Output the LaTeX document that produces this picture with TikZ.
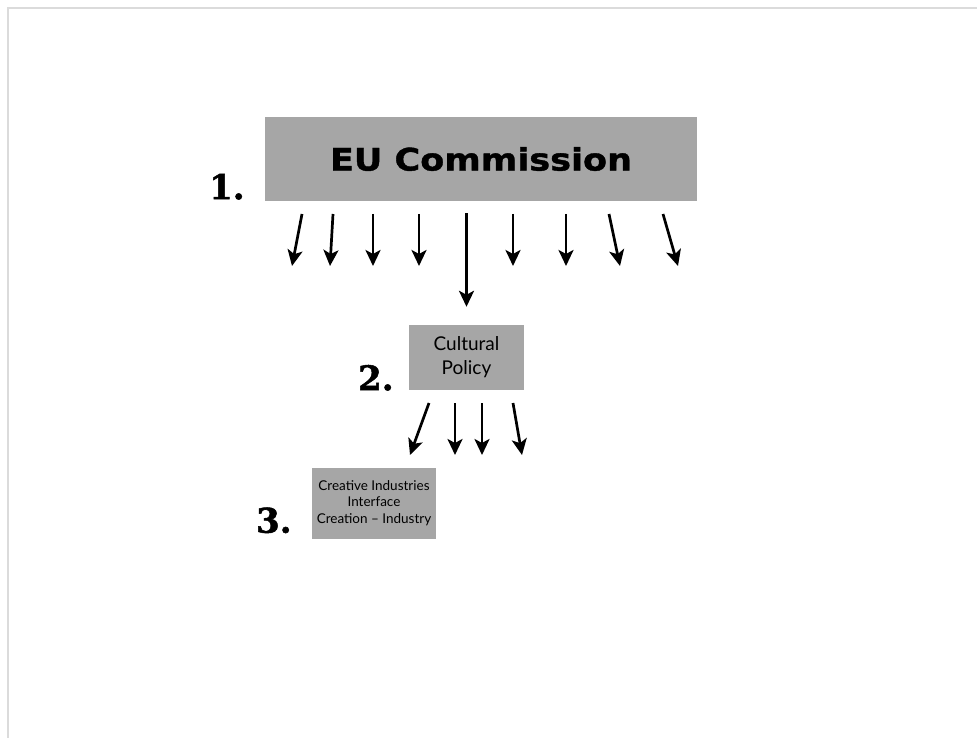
\documentclass[tikz,border=0pt]{standalone}
\usepackage{fontspec}
\newfontfamily\headfont[FakeStretch=1.13,BoldFeatures={FakeBold=1.2}]{DejaVu Sans}
\newfontfamily\labelfont{Lato}
\newfontfamily\numfont[BoldFeatures={FakeBold=1.5}]{DejaVu Serif}
\usetikzlibrary{arrows.meta,positioning}

\begin{document}
\begin{tikzpicture}
[x=1pt,y=-1pt,
box/.style={fill=black!35,inner sep=0pt,align=center},
arr/.style={line width=2.7pt,-{Stealth[length=16pt,width=15pt,inset=4pt]}},
num/.style={font=\numfont\bfseries\fontsize{34}{34}\selectfont,inner sep=0pt}
]
\useasboundingbox (0,0) rectangle (977,738);
% slide frame
\draw[black!14,line width=1.5pt] (977,8) -- (8,8) -- (8,738);

\node[box,minimum width=432pt,minimum height=84pt,
      font=\headfont\bfseries\fontsize{31}{31}\selectfont] (eu) at (481,159) {EU Commission};
\node[box,minimum width=115pt,minimum height=65pt,
      font=\labelfont\fontsize{19}{24}\selectfont] (cp) at (466.5,357.5) {Cultural\\Policy};
\node[box,minimum width=124pt,minimum height=71pt,
      font=\labelfont\fontsize{13.5}{16.5}\selectfont] (ci) at (374,503) {Creative Industries\\Interface\\Creation \textendash{} Industry};

\node[num,anchor=base east] (n1) at ([xshift=-20pt,yshift=2pt]eu.south west) {1.};
\node[num,anchor=base east] (n2) at ([xshift=-15pt]cp.south west) {2.};
\node[num,anchor=base east] (n3) at ([xshift=-20pt,yshift=6pt]ci.south west) {3.};

% arrows out of the commission
\foreach \i/\xa/\xb in {1/302/292, 2/333/330, 3/373/373, 4/419/419,
                        6/513/513, 7/566/566, 8/609/620, 9/663/678}
{
    \coordinate (eu-s\i) at (\xa,214);
    \coordinate (eu-e\i) at (\xb,266);
    \draw[arr] (eu-s\i) -- (eu-e\i);
}
\draw[arr,shorten <=12pt,shorten >=18pt] (eu.south -| cp.north) -- (cp.north);

% arrows out of cultural policy
\foreach \i/\xa/\xb in {1/429/410, 2/455/455, 3/482/482, 4/513/522}
{
    \coordinate (cp-s\i) at (\xa,403);
    \coordinate (cp-e\i) at (\xb,455);
    \draw[arr] (cp-s\i) -- (cp-e\i);
}
\end{tikzpicture}
\end{document}
